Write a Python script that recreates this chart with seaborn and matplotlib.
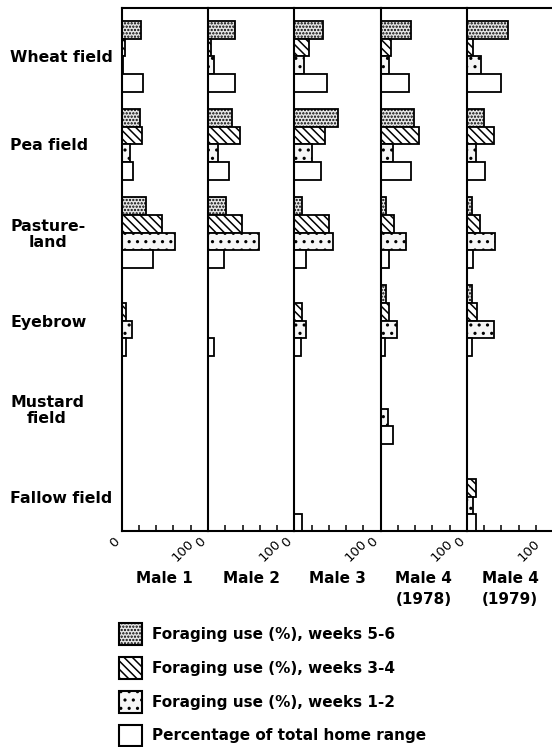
import matplotlib
matplotlib.use("Agg")
import matplotlib.pyplot as plt
import seaborn as sns
import pandas as pd
from matplotlib.patches import Patch
from matplotlib.transforms import ScaledTranslation

# ---------------- data ----------------
habitats = ["Wheat field", "Pea field", "Pasture-\nland", "Eyebrow", "Mustard\nfield", "Fallow field"]
males = ["Male 1", "Male 2", "Male 3", "Male 4\n(1978)", "Male 4\n(1979)"]
series = ["Foraging use (%), weeks 5-6",
          "Foraging use (%), weeks 3-4",
          "Foraging use (%), weeks 1-2",
          "Percentage of total home range"]

male1_w56 = [22, 21, 28, 0, 0, 0]
male1_w34 = [4, 24, 47, 4.5, 0, 0]
male1_w12 = [2, 10, 62, 12, 0, 0]
male1_home = [25, 13, 36, 5, 0, 0]

male2_w56 = [31, 28, 21, 0, 0, 0]
male2_w34 = [4, 37, 39, 0, 0, 0]
male2_w12 = [7, 11.5, 59, 0, 0, 0]
male2_home = [31, 24, 18, 6.5, 0, 0]

male3_w56 = [33, 51, 8.5, 0, 0, 0]
male3_w34 = [17, 35, 40, 8.5, 0, 0]
male3_w12 = [11.5, 20, 45, 14, 0, 0]
male3_home = [38, 31, 14, 7.5, 0, 9]

male4a_w56 = [35, 39, 6.5, 6.5, 0, 0]
male4a_w34 = [11.5, 44, 15, 10, 0, 0]
male4a_w12 = [9.5, 14.5, 29, 19, 9, 0]
male4a_home = [33, 35, 9.5, 5, 14, 0]

male4b_w56 = [47.5, 19.5, 6, 6, 0, 0]
male4b_w34 = [7.5, 31, 15, 12, 0, 11]
male4b_w12 = [16, 11, 33, 31.5, 0, 7]
male4b_home = [39, 21.5, 7, 6, 0, 11]

panel_values = {
    "Male 1": [male1_w56, male1_w34, male1_w12, male1_home],
    "Male 2": [male2_w56, male2_w34, male2_w12, male2_home],
    "Male 3": [male3_w56, male3_w34, male3_w12, male3_home],
    "Male 4\n(1978)": [male4a_w56, male4a_w34, male4a_w12, male4a_home],
    "Male 4\n(1979)": [male4b_w56, male4b_w34, male4b_w12, male4b_home],
}

rows = []
for m in males:
    for s, vals in zip(series, panel_values[m]):
        for h, v in zip(habitats, vals):
            rows.append({"male": m, "series": s, "habitat": h, "value": v})
df = pd.DataFrame(rows)

# ---------------- style ----------------
sns.set_theme(style="white")
plt.rcParams["font.family"] = ["DejaVu Sans"]
plt.rcParams["text.color"] = "black"
plt.rcParams["axes.labelcolor"] = "black"
plt.rcParams["xtick.color"] = "black"
plt.rcParams["ytick.color"] = "black"
plt.rcParams["hatch.linewidth"] = 1.1
plt.rcParams["hatch.color"] = "black"

facecolors = ["#e6e6e6", "white", "#f6f6f6", "white"]
hatches = [".....", "\\\\\\\\", "..", ""]

W, H = 552, 747
fig = plt.figure(figsize=(W / 100, H / 100), dpi=100)

panel_left0 = 121.7
panel_w = 86.3
top_px, bot_px = 8, 531

for i, m in enumerate(males):
    left = (panel_left0 + panel_w * i) / W
    ax = fig.add_axes([left, 1 - bot_px / H, panel_w / W, (bot_px - top_px) / H])
    sub = df[df["male"] == m]
    sns.barplot(data=sub, x="value", y="habitat", hue="series",
                order=habitats, hue_order=series, orient="h",
                palette=facecolors, saturation=1, edgecolor="black",
                linewidth=1.3, errorbar=None, legend=False, ax=ax)
    for cont, hatch in zip(ax.containers, hatches):
        for bar in cont:
            bar.set_hatch(hatch)

    ax.set_xlim(0, 100)
    ax.set_ylim(5.388, -0.549)
    for side in ["top", "bottom", "left"]:
        ax.spines[side].set_visible(True)
        ax.spines[side].set_linewidth(1.5)
        ax.spines[side].set_color("black")
    ax.spines["right"].set_visible(False)

    ax.set_xticks([0, 100])
    ax.set_xticklabels(["0", "100"], rotation=45, ha="right", va="top",
                       fontsize=9.5, color="black")
    ax.set_xticks([20, 40, 60, 80], minor=True)
    ax.tick_params(axis="x", which="both", direction="in", length=4.5, width=1.1,
                   color="black", bottom=True, pad=3)

    ax.set_yticks(range(len(habitats)))
    if i == 0:
        ax.set_yticklabels(habitats, ha="left", multialignment="center",
                           fontsize=11.3, fontweight="bold", linespacing=1.1,
                           color="black")
        ax.tick_params(axis="y", length=0, pad=(panel_left0 - 10) * 0.72)
    else:
        ax.tick_params(axis="y", length=0, labelleft=False)
    ax.set_ylabel("")

    ax.set_xlabel(m, fontsize=11, fontweight="bold", linespacing=1.45, color="black")
    ax.xaxis.set_label_coords(0.5, -0.0774)

    lbl = ax.get_xticklabels()[1]
    lbl.set_transform(lbl.get_transform() + ScaledTranslation(-11 / 100, -2 / 100, fig.dpi_scale_trans))

handles = [Patch(facecolor=fc, edgecolor="black", hatch=h, linewidth=1.5)
           for fc, h in zip(facecolors, hatches)]
leg = fig.legend(handles, series, loc="upper left",
                 bbox_to_anchor=(119 / W, 1 - 623 / H), frameon=False,
                 prop={"size": 11, "weight": "bold"},
                 handlelength=1.5, handleheight=1.82, labelspacing=0.79,
                 handletextpad=0.65, borderpad=0, borderaxespad=0)
for t in leg.get_texts():
    t.set_color("black")

fig.savefig("out.png", dpi=100)
